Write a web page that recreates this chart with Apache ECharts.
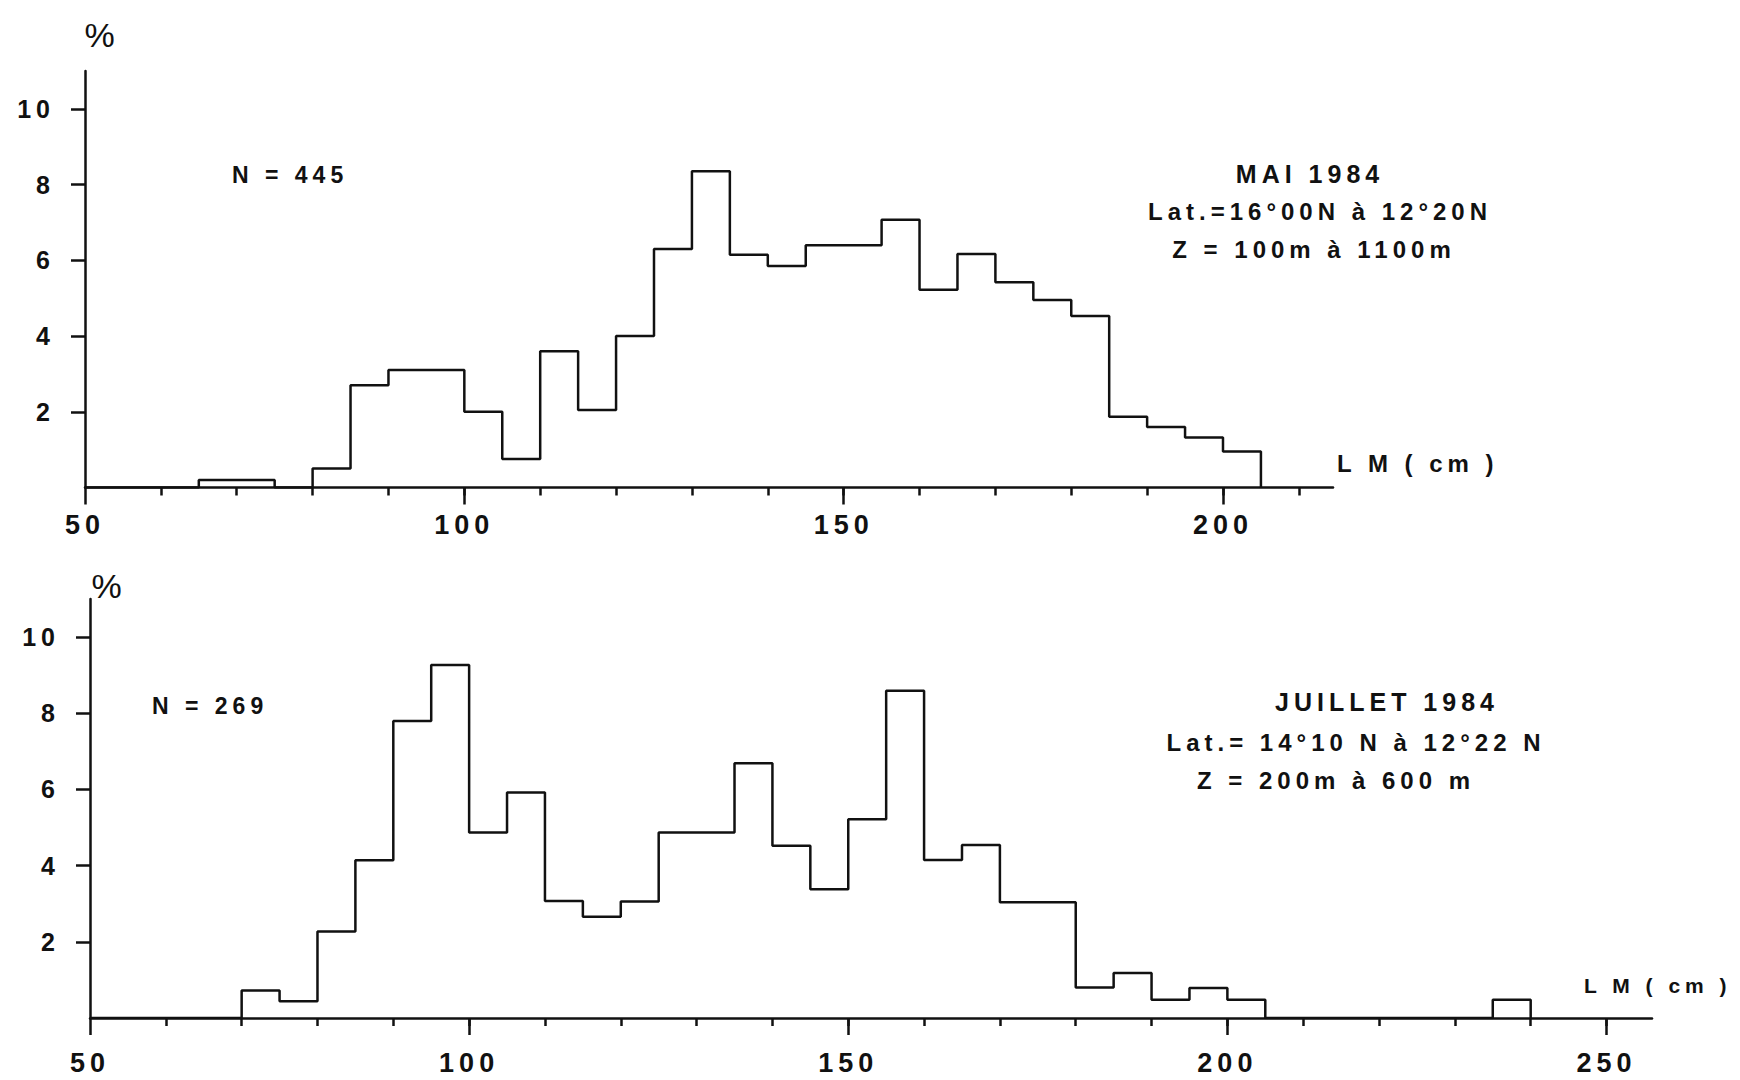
<!DOCTYPE html>
<html>
<head>
<meta charset="utf-8">
<script src="https://cdn.jsdelivr.net/npm/echarts@6/dist/echarts.min.js"></script>
<style>
html,body{margin:0;padding:0;background:#ffffff}
#main{width:1740px;height:1080px;letter-spacing:5px}
</style>
</head>
<body>
<div id="main"></div>
<script>
// ---- Data: length classes (cm, left edge of 5 cm bins) and percentages ----
const binStartsMai = [50,55,60,65,70,75,80,85,90,95,100,105,110,115,120,125,130,135,140,145,150,155,160,165,170,175,180,185,190,195,200];
const valuesMai    = [0,0,0,0.2,0.2,0,0.5,2.7,3.1,3.1,2.0,0.75,3.6,2.05,4.0,6.3,8.35,6.15,5.85,6.4,6.4,7.07,5.22,6.17,5.42,4.95,4.53,1.87,1.6,1.32,0.95];
const binEndMai = 205;

const binStartsJuil = [50,55,60,65,70,75,80,85,90,95,100,105,110,115,120,125,130,135,140,145,150,155,160,165,170,175,180,185,190,195,200,205,210,215,220,225,230,235];
const valuesJuil    = [0,0,0,0,0.72,0.44,2.27,4.14,7.8,9.27,4.87,5.92,3.07,2.66,3.06,4.87,4.87,6.69,4.52,3.38,5.22,8.59,4.15,4.54,3.04,3.04,0.8,1.18,0.48,0.79,0.48,0,0,0,0,0,0,0.48];
const binEndJuil = 240;

// ---- Axis ticks / labels ----
const xMinorTicksMai  = [60,70,80,90,100,110,120,130,140,150,160,170,180,190,200,210];
const xMajorTicksMai  = [50,100,150,200];
const xLabelsMai      = [50,100,150,200];
const xMinorTicksJuil = [60,70,80,90,100,110,120,130,140,150,160,170,180,190,200,210,220,230,240,250];
const xMajorTicksJuil = [50,100,150,200,250];
const xLabelsJuil     = [50,100,150,200,250];
const yTickLabels     = [2,4,6,8,10];

const textMai  = ['N = 445', 'MAI 1984', 'Lat.=16°00N à 12°20N', 'Z = 100m à 1100m'];
const textJuil = ['N = 269', 'JUILLET 1984', 'Lat.= 14°10 N à 12°22 N', 'Z = 200m à 600 m'];
const axisName = 'L M ( cm )';
const yName = '%';

function stepData(starts, vals, end) {
  const pts = starts.map((s, i) => [s, vals[i]]);
  pts.push([end, 0]);
  return pts;
}

const INK = '#111111';
const FONT = 'Liberation Sans';

function xAxesFor(gridIndex, max, minor, major, labels, labelMargin) {
  return [
    {
      gridIndex, type: 'value', min: 50, max: max, position: 'bottom',
      splitLine: {show: false},
      axisLine: {show: true, onZero: false, lineStyle: {color: INK, width: 2.5}},
      axisTick: {show: true, customValues: minor, length: 8, lineStyle: {color: INK, width: 2.5}},
      axisLabel: {show: true, customValues: labels, margin: labelMargin,
        color: INK, fontFamily: FONT, fontWeight: 'bold', fontSize: 27}
    },
    {
      gridIndex, type: 'value', min: 50, max: max, position: 'bottom',
      splitLine: {show: false},
      axisLine: {show: false},
      axisTick: {show: true, customValues: major, length: 17, lineStyle: {color: INK, width: 2.5}},
      axisLabel: {show: false}
    }
  ];
}

function yAxisFor(gridIndex) {
  return {
    gridIndex, type: 'value', min: 0, max: 11,
    splitLine: {show: false},
    axisLine: {show: true, lineStyle: {color: INK, width: 2.5}},
    axisTick: {show: true, customValues: yTickLabels, length: 14, lineStyle: {color: INK, width: 2.5}},
    axisLabel: {show: true, customValues: yTickLabels, margin: 30,
      color: INK, fontFamily: FONT, fontWeight: 'bold', fontSize: 25}
  };
}

function txt(x, y, text, size, align, weight) {
  return {
    type: 'text', x: x, y: y, silent: true,
    style: {text: text, fill: INK, fontFamily: FONT, fontWeight: weight || 'bold',
      fontSize: size, align: align || 'center', verticalAlign: 'middle'}
  };
}

const chart = echarts.init(document.getElementById('main'), null, {renderer: 'svg'});
chart.setOption({
  animation: false,
  backgroundColor: '#ffffff',
  grid: [
    {left: 85, top: 71, right: 407, bottom: 592.5},
    {left: 90, top: 599, right: 88, bottom: 62}
  ],
  xAxis: [].concat(
    xAxesFor(0, 214.5, xMinorTicksMai, xMajorTicksMai, xLabelsMai, 24),
    xAxesFor(1, 256, xMinorTicksJuil, xMajorTicksJuil, xLabelsJuil, 31)
  ),
  yAxis: [yAxisFor(0), yAxisFor(1)],
  series: [
    {
      type: 'line', step: 'end', xAxisIndex: 0, yAxisIndex: 0,
      data: stepData(binStartsMai, valuesMai, binEndMai),
      symbol: 'none', lineStyle: {color: INK, width: 2.5}
    },
    {
      type: 'line', step: 'end', xAxisIndex: 2, yAxisIndex: 1,
      data: stepData(binStartsJuil, valuesJuil, binEndJuil),
      symbol: 'none', lineStyle: {color: INK, width: 2.5}
    }
  ],
  graphic: [
    txt(102, 35, yName, 34, 'center', 'normal'),
    txt(232, 175, textMai[0], 23, 'left'),
    txt(1310, 174, textMai[1], 25),
    txt(1320, 211, textMai[2], 24),
    txt(1314, 249, textMai[3], 24),
    txt(1337, 463, axisName, 24, 'left'),

    txt(109, 586, yName, 34, 'center', 'normal'),
    txt(152, 706, textJuil[0], 23, 'left'),
    txt(1387, 702, textJuil[1], 25),
    txt(1356, 742, textJuil[2], 24),
    txt(1336, 780, textJuil[3], 24),
    txt(1584, 985, axisName, 21, 'left')
  ]
});
</script>
</body>
</html>
